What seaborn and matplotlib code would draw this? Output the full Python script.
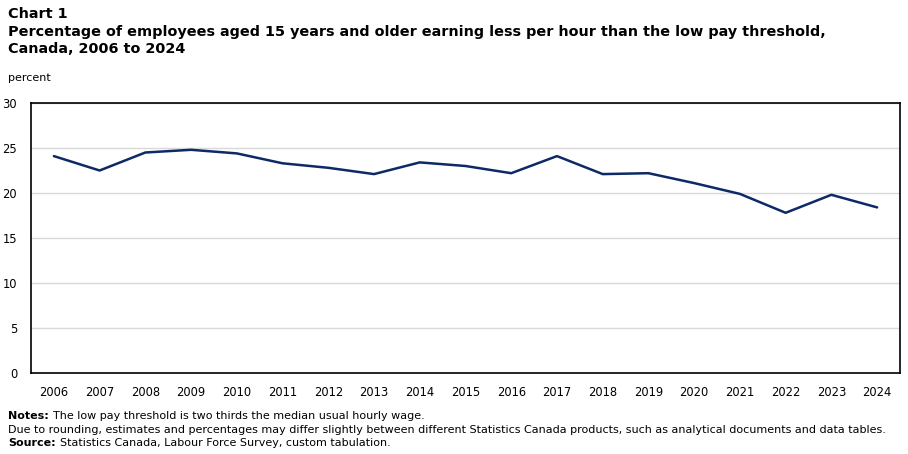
import matplotlib
matplotlib.use("Agg")
import matplotlib.pyplot as plt
import seaborn as sns
import pandas as pd

years = [str(y) for y in range(2006, 2025)]
percent = [24.1, 22.5, 24.5, 24.8, 24.4, 23.3, 22.8, 22.1, 23.4, 23.0,
           22.2, 24.1, 22.1, 22.2, 21.1, 19.9, 17.8, 19.8, 18.4]

df = pd.DataFrame({"year": years, "percent": percent})

sns.set_style("white")
plt.rcParams["font.family"] = ["DejaVu Sans"]
plt.rcParams["text.color"] = "black"
plt.rcParams["xtick.color"] = "black"
plt.rcParams["ytick.color"] = "black"

fig = plt.figure(figsize=(9.08, 4.54), dpi=100)
ax = fig.add_axes([31 / 908, 81 / 454, 869 / 908, 270 / 454])

sns.lineplot(data=df, x="year", y="percent", color="#0d2a66", linewidth=1.8,
             sort=False, ax=ax)

ax.set_ylim(0, 30)
ax.set_yticks(range(0, 31, 5))
ax.set_xlim(-0.5, len(years) - 0.5)
ax.grid(axis="y", color="#d9d9d9", linewidth=1)
ax.set_axisbelow(True)
for s in ax.spines.values():
    s.set_color("black")
    s.set_linewidth(1.2)
ax.tick_params(axis="x", direction="in", length=3, width=0.8, pad=9, labelsize=8.3)
ax.tick_params(axis="y", length=0, pad=10, labelsize=8.3)
ax.set_xlabel("")
ax.set_ylabel("")

tsize = 10.4
fig.text(8 / 908, 1 - 14 / 454, "Chart 1", fontsize=tsize, fontweight="bold", va="center")
fig.text(8 / 908, 1 - 32 / 454,
         "Percentage of employees aged 15 years and older earning less per hour than the low pay threshold,",
         fontsize=tsize, fontweight="bold", va="center")
fig.text(8 / 908, 1 - 49 / 454, "Canada, 2006 to 2024", fontsize=tsize, fontweight="bold", va="center")
fig.text(8 / 908, 1 - 78 / 454, "percent", fontsize=8, va="center")

nsize = 8.0
renderer = fig.canvas.get_renderer()


def note_line(y, bold, rest):
    x0 = 8 / 908
    if bold:
        t = fig.text(x0, 1 - y / 454, bold, fontsize=nsize, fontweight="bold", va="center")
        bb = t.get_window_extent(renderer)
        x0 = (bb.x1 + 4) / fig.bbox.width
    fig.text(x0, 1 - y / 454, rest, fontsize=nsize, va="center")


note_line(416, "Notes:", "The low pay threshold is two thirds the median usual hourly wage.")
note_line(430, None, "Due to rounding, estimates and percentages may differ slightly between different "
                     "Statistics Canada products, such as analytical documents and data tables.")
note_line(443, "Source:", "Statistics Canada, Labour Force Survey, custom tabulation.")

fig.savefig("out.png", dpi=100)
